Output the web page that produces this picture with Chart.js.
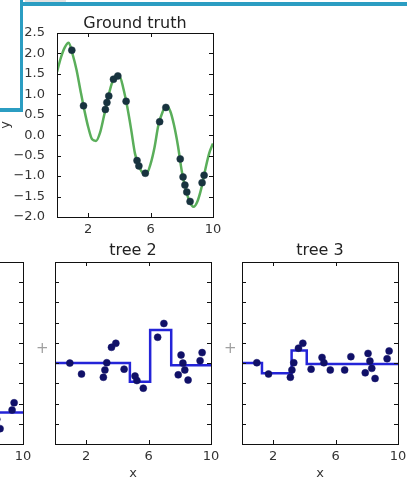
<!DOCTYPE html>
<html>
<head>
<meta charset="utf-8">
<script src="https://cdn.jsdelivr.net/npm/chart.js@4.4.1/dist/chart.umd.min.js"></script>
<style>
  html, body { margin: 0; padding: 0; background: #fff; }
  body { width: 407px; height: 485px; position: relative; overflow: hidden; font-family: "DejaVu Sans", sans-serif; }
  canvas { position: absolute; }
  .plus { position: absolute; color: #a0a0a0; font-size: 15px; line-height: 15px; }
  .deco { position: absolute; background: #2b9dc2; }
</style>
</head>
<body>
<div class="deco" style="left:0;top:108px;width:23px;height:3.5px"></div>
<div class="deco" style="left:19.5px;top:0;width:3.5px;height:111.5px"></div>
<div class="deco" style="left:19.5px;top:2px;width:390px;height:3.5px"></div>
<div style="position:absolute;left:25px;top:0;width:41px;height:2px;background:#e2e2e2"></div>

<canvas id="gt" width="230" height="240" style="left:0;top:0"></canvas>
<canvas id="tree1" width="196" height="255" style="left:-153px;top:230px"></canvas>
<canvas id="tree2" width="196" height="255" style="left:35px;top:230px"></canvas>
<canvas id="tree3" width="196" height="255" style="left:222px;top:230px"></canvas>
<div class="plus" style="left:36px;top:341px">+</div>
<div class="plus" style="left:224px;top:341px">+</div>

<script>
// sample positions (shared by all panels)
const xPts = [0.95, 1.7, 3.1, 3.2, 3.32, 3.62, 3.9, 4.43, 5.13, 5.25, 5.66, 6.58, 6.98, 7.9, 8.08, 8.2, 8.32, 8.53, 9.3, 9.43];
// ground truth values at the samples
const gtY = [2.08, 0.72, 0.63, 0.80, 0.96, 1.37, 1.45, 0.83, -0.62, -0.75, -0.93, 0.33, 0.68, -0.58, -1.02, -1.22, -1.39, -1.62, -1.16, -0.98];
// residuals fitted by tree 2 and tree 3
const res2 = [0.0, -0.27, -0.35, -0.17, 0.01, 0.39, 0.49, -0.15, -0.32, -0.43, -0.62, 0.64, 0.98, -0.29, 0.2, 0.0, -0.17, -0.42, 0.06, 0.26];
const res3 = [0.01, -0.27, -0.35, -0.17, 0.01, 0.37, 0.49, -0.15, 0.14, 0.01, -0.17, -0.17, 0.16, -0.24, 0.24, 0.05, -0.13, -0.38, 0.11, 0.30];

// ground truth curve
const curveX = [0, 0.25, 0.5, 0.75, 1, 1.25, 1.5, 1.75, 2, 2.25, 2.5, 2.75, 3, 3.25, 3.5, 3.75, 4, 4.25, 4.5, 4.75, 5,
                5.25, 5.5, 5.75, 6, 6.25, 6.5, 6.75, 7, 7.25, 7.5, 7.75, 8, 8.25, 8.5, 8.75, 9, 9.25, 9.5, 9.75, 10];
const curveY = [1.55, 1.9, 2.15, 2.26, 1.98, 1.6, 1.1, 0.62, 0.2, -0.1, -0.14, 0.05, 0.45, 0.88, 1.25, 1.45, 1.45, 1.15, 0.7, 0.15, -0.45,
                -0.75, -0.92, -0.93, -0.7, -0.3, 0.25, 0.55, 0.72, 0.6, 0.25, -0.25, -0.88, -1.32, -1.62, -1.75, -1.62, -1.3, -0.85, -0.45, -0.2];

// step predictions of the trees (start of each leaf, leaf value)
const tree1X = [0, 1.3, 4.8, 8.0, 10];
const tree1Y = [2.08, 0.97, -0.30, -1.22, -1.22];
const tree2X = [0, 4.8, 6.1, 7.45, 10];
const tree2Y = [0.0, -0.46, 0.82, -0.05, -0.05];
const tree3X = [0, 1.28, 3.18, 4.15, 10];
const tree3Y = [0.0, -0.25, 0.31, -0.02, -0.02];

const xTicks = [2, 6, 10];
const yTicks = [-2.0, -1.5, -1.0, -0.5, 0.0, 0.5, 1.0, 1.5, 2.0, 2.5];

Chart.defaults.font.family = "'DejaVu Sans', sans-serif";

const pts = (xs, ys) => xs.map((v, i) => ({ x: v, y: ys[i] }));
const tickFont = { size: 13, lineHeight: 1.2 };

// matplotlib style frame with inward ticks on all sides
const frame = {
  id: 'frame',
  afterDatasetsDraw(chart) {
    const { ctx, chartArea: a, scales: { x, y } } = chart;
    ctx.save();
    ctx.strokeStyle = '#111';
    ctx.lineWidth = 1;
    ctx.beginPath();
    xTicks.forEach(v => {
      const p = Math.round(x.getPixelForValue(v)) + 0.5;
      ctx.moveTo(p, a.bottom); ctx.lineTo(p, a.bottom - 4);
      ctx.moveTo(p, a.top); ctx.lineTo(p, a.top + 4);
    });
    yTicks.forEach(v => {
      const p = Math.round(y.getPixelForValue(v)) + 0.5;
      ctx.moveTo(a.left, p); ctx.lineTo(a.left + 4, p);
      ctx.moveTo(a.right, p); ctx.lineTo(a.right - 4, p);
    });
    ctx.stroke();
    ctx.strokeRect(Math.round(a.left) + 0.5, Math.round(a.top) + 0.5,
                   Math.round(a.right - a.left), Math.round(a.bottom - a.top));
    ctx.restore();
  }
};

function panel(id, cfg) {
  return new Chart(document.getElementById(id), {
    type: 'line',
    data: { datasets: cfg.datasets },
    options: {
      responsive: false,
      animation: false,
      devicePixelRatio: 1,
      layout: { padding: cfg.padding },
      plugins: {
        legend: { display: false },
        tooltip: { enabled: false },
        title: {
          display: true, text: cfg.title, fullSize: false, color: '#222',
          font: { size: 16, weight: 'normal', lineHeight: 1 },
          padding: cfg.titlePad
        }
      },
      scales: {
        x: {
          type: 'linear', min: 0, max: 10,
          grid: { display: false }, border: { display: false },
          afterBuildTicks: s => { s.ticks = xTicks.map(v => ({ value: v })); },
          afterFit: s => { s.height = cfg.xHeight; },
          ticks: { padding: -3, color: '#333', font: tickFont, maxRotation: 0, autoSkip: false, callback: v => String(v) },
          title: cfg.xTitle
        },
        y: {
          type: 'linear', min: -2, max: 2.5,
          display: cfg.showY,
          grid: { display: false }, border: { display: false },
          afterBuildTicks: s => { s.ticks = yTicks.map(v => ({ value: v })); },
          afterFit: s => { s.width = cfg.showY ? 57 : 0; },
          ticks: {
            padding: 4, color: '#333', font: tickFont,
            callback: v => (v < 0 ? '\u2212' : '') + Math.abs(v).toFixed(1)
          },
          title: { display: true, text: 'y', color: '#333', font: { size: 13, lineHeight: 0.8 }, padding: 0 }
        }
      }
    },
    plugins: [frame]
  });
}

function dots(xs, ys, color, r) {
  return { data: pts(xs, ys), showLine: false, pointRadius: r, pointBackgroundColor: color,
           pointBorderColor: color, pointBorderWidth: 0.5 };
}
function steps(xs, ys) {
  return { data: pts(xs, ys), stepped: 'before', borderColor: '#2424d8', borderWidth: 2.5, pointRadius: 0 };
}

const treeCfg = (title, datasets) => ({
  title, datasets,
  padding: { left: 20, right: 20, top: 0, bottom: 0 },
  titlePad: { top: 12.5, bottom: 3.5 },
  xHeight: 41,
  showY: false,
  xTitle: { display: true, text: 'x', color: '#333', font: { size: 13, lineHeight: 1.2 }, padding: { top: 0, bottom: 3.2 } }
});

panel('gt', {
  title: 'Ground truth',
  datasets: [
    dots(xPts, gtY, '#18333f', 3.5),
    { data: pts(curveX, curveY), borderColor: '#5aae5a', borderWidth: 2.5, pointRadius: 0, cubicInterpolationMode: 'monotone' }
  ],
  padding: { left: 0, right: 17, top: 0, bottom: 0 },
  titlePad: { top: 16, bottom: 1 },
  xHeight: 23,
  showY: true,
  xTitle: { display: false }
});

panel('tree1', treeCfg('tree 1', [dots(xPts, gtY, '#101068', 3.5), steps(tree1X, tree1Y)]));
panel('tree2', treeCfg('tree 2', [dots(xPts, res2, '#101068', 3.5), steps(tree2X, tree2Y)]));
panel('tree3', treeCfg('tree 3', [dots(xPts, res3, '#101068', 3.5), steps(tree3X, tree3Y)]));
</script>
</body>
</html>
